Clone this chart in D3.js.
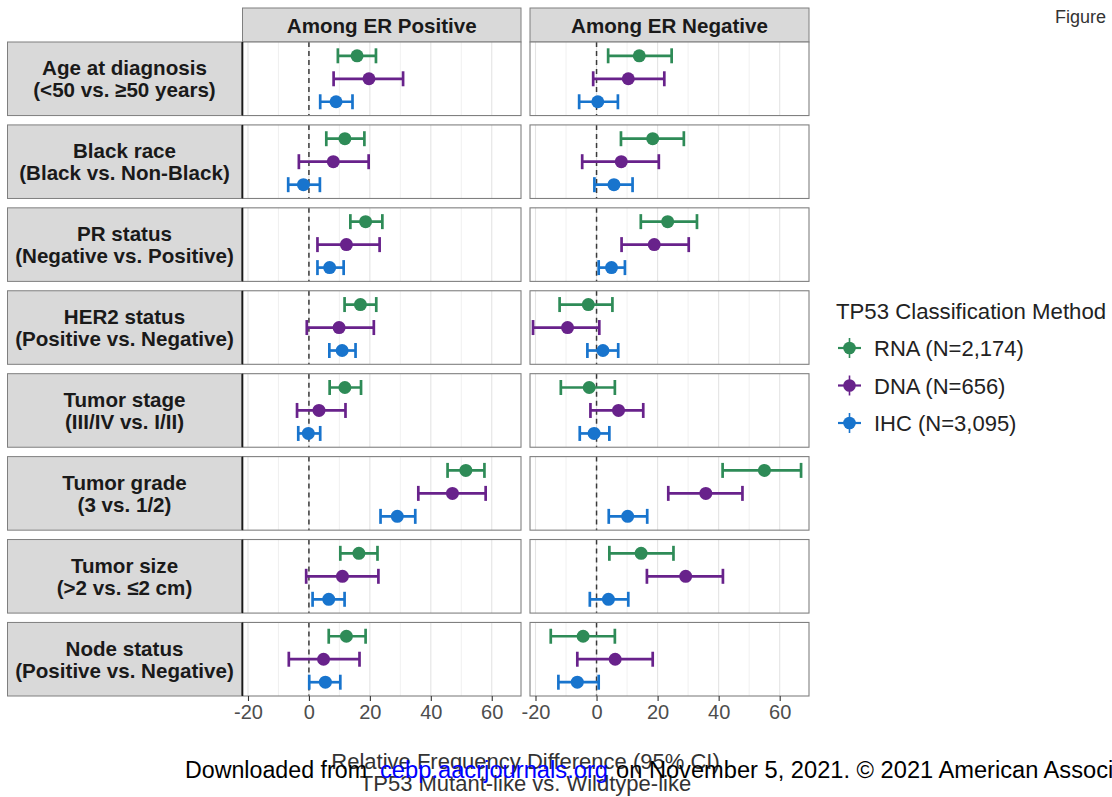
<!DOCTYPE html>
<html>
<head>
<meta charset="utf-8">
<script src="https://cdn.jsdelivr.net/npm/d3@7"></script>
<style>
  html, body { margin: 0; padding: 0; background: #ffffff; }
  svg { display: block; font-family: "Liberation Sans", Arial, Helvetica, sans-serif; }
</style>
</head>
<body>
<svg id="chart" width="1112" height="797"></svg>
<script>
// Row facets (two-line strip labels)
const categories = [
  ["Age at diagnosis", "(<50 vs. \u226550 years)"],
  ["Black race", "(Black vs. Non-Black)"],
  ["PR status", "(Negative vs. Positive)"],
  ["HER2 status", "(Positive vs. Negative)"],
  ["Tumor stage", "(III/IV vs. I/II)"],
  ["Tumor grade", "(3 vs. 1/2)"],
  ["Tumor size", "(>2 vs. \u22642 cm)"],
  ["Node status", "(Positive vs. Negative)"]
];
const columns = ["Among ER Positive", "Among ER Negative"];
const methods = ["RNA", "DNA", "IHC"];
const methodLabels = ["RNA (N=2,174)", "DNA (N=656)", "IHC (N=3,095)"];
const xTicks = [-20, 0, 20, 40, 60];

// [estimate, lower 95% CI, upper 95% CI] per row facet
const posRNA = [[15.8, 9.5, 22.0], [11.8, 5.7, 18.2], [18.6, 13.6, 24.1], [16.9, 11.7, 22.1],
                [11.8, 6.8, 17.1], [51.5, 45.5, 57.6], [16.4, 10.3, 22.5], [12.3, 6.5, 18.6]];
const posDNA = [[19.7, 8.1, 30.9], [8.0, -3.3, 19.6], [12.3, 2.8, 23.2], [9.9, -0.7, 21.3],
                [3.3, -3.9, 12.0], [47.1, 35.9, 58.0], [11.0, -0.9, 22.8], [4.8, -6.6, 16.6]];
const posIHC = [[8.9, 3.7, 14.3], [-1.8, -6.8, 3.6], [6.8, 2.8, 11.4], [10.9, 6.7, 15.3],
                [-0.2, -3.5, 3.7], [29.0, 23.5, 34.9], [6.5, 1.2, 11.7], [5.4, 0.1, 10.3]];
const negRNA = [[14.0, 3.8, 24.6], [18.4, 8.0, 28.6], [23.3, 14.5, 32.9], [-2.7, -12.1, 5.2],
                [-2.4, -11.7, 6.0], [55.0, 41.3, 67.0], [14.6, 4.2, 25.2], [-4.4, -15.0, 6.0]];
const negDNA = [[10.4, -1.1, 22.2], [8.1, -4.7, 20.4], [18.9, 8.2, 30.2], [-9.5, -20.8, 0.9],
                [7.2, -2.0, 15.3], [35.8, 23.5, 47.8], [29.2, 16.5, 41.4], [6.1, -6.3, 18.4]];
const negIHC = [[0.4, -5.7, 7.0], [5.7, -0.7, 11.8], [4.9, 0.7, 9.3], [2.1, -3.0, 7.1],
                [-0.8, -5.5, 4.2], [10.2, 4.0, 16.6], [3.9, -2.2, 10.4], [-6.3, -12.5, 0.7]];

const columnData = [
  { RNA: posRNA, DNA: posDNA, IHC: posIHC },
  { RNA: negRNA, DNA: negDNA, IHC: negIHC }
];

const colors = { RNA: "#2E8B57", DNA: "#68228B", IHC: "#1874CD" };

const svg = d3.select("#chart");

// Facet layout
const colRanges = [[242.5, 521], [530, 809]];
const rowBand = d3.scaleBand()
  .domain(d3.range(categories.length))
  .range([42, 696])
  .paddingInner(0.113)
  .paddingOuter(0);

const xDomain = [-21.8, 69.6];
const xScales = colRanges.map(r => d3.scaleLinear().domain(xDomain).range(r));
const minorTicks = [-10, 10, 30, 50];

// Column strips on top
columns.forEach((title, c) => {
  const [x0, x1] = colRanges[c];
  svg.append("rect")
    .attr("x", x0).attr("y", 8).attr("width", x1 - x0).attr("height", 34)
    .attr("fill", "#d9d9d9").attr("stroke", "#7f7f7f").attr("stroke-width", 1);
  svg.append("text")
    .attr("x", (x0 + x1) / 2).attr("y", 32.5)
    .attr("text-anchor", "middle")
    .attr("font-size", 20.6).attr("font-weight", "bold").attr("fill", "#1a1a1a")
    .text(title);
});

// Row strips on the left
categories.forEach((lab, r) => {
  const y0 = rowBand(r), h = rowBand.bandwidth();
  svg.append("rect")
    .attr("x", 7.5).attr("y", y0).attr("width", 234).attr("height", h)
    .attr("fill", "#d9d9d9").attr("stroke", "#7f7f7f").attr("stroke-width", 1);
  const cy = y0 + h / 2;
  const t = svg.append("text")
    .attr("text-anchor", "middle")
    .attr("font-size", 20.6).attr("font-weight", "bold").attr("fill", "#1a1a1a");
  t.append("tspan").attr("x", 124.5).attr("y", cy - 3.5).text(lab[0]);
  t.append("tspan").attr("x", 124.5).attr("y", cy + 18.5).text(lab[1]);
});

// Panels
columns.forEach((_, c) => {
  const x = xScales[c];
  const [x0, x1] = colRanges[c];
  categories.forEach((lab, r) => {
    const y0 = rowBand(r), h = rowBand.bandwidth();
    const g = svg.append("g");
    g.append("rect")
      .attr("x", x0).attr("y", y0).attr("width", x1 - x0).attr("height", h)
      .attr("fill", "#ffffff");
    // grid
    g.selectAll("line.minor").data(minorTicks).enter().append("line")
      .attr("x1", d => x(d)).attr("x2", d => x(d))
      .attr("y1", y0).attr("y2", y0 + h)
      .attr("stroke", "#ececec").attr("stroke-width", 0.8);
    g.selectAll("line.major").data(xTicks).enter().append("line")
      .attr("x1", d => x(d)).attr("x2", d => x(d))
      .attr("y1", y0).attr("y2", y0 + h)
      .attr("stroke", "#e4e4e4").attr("stroke-width", 1.1);
    // reference line at zero
    g.append("line")
      .attr("x1", x(0)).attr("x2", x(0))
      .attr("y1", y0).attr("y2", y0 + h)
      .attr("stroke", "#3a3a3a").attr("stroke-width", 1.5)
      .attr("stroke-dasharray", "5,4");

    const yPt = d3.scalePoint().domain(methods).range([y0, y0 + h]).padding(0.6);
    const rows = methods.map(m => ({ m, v: columnData[c][m][r] }));

    // error bars with end caps, then the point estimate
    rows.forEach(d => {
      const yy = yPt(d.m);
      const col = colors[d.m];
      g.append("line")
        .attr("x1", x(d.v[1])).attr("x2", x(d.v[2]))
        .attr("y1", yy).attr("y2", yy)
        .attr("stroke", col).attr("stroke-width", 2.7);
      [d.v[1], d.v[2]].forEach(e => {
        g.append("line")
          .attr("x1", x(e)).attr("x2", x(e))
          .attr("y1", yy - 7.5).attr("y2", yy + 7.5)
          .attr("stroke", col).attr("stroke-width", 2.7);
      });
      g.append("circle")
        .attr("cx", x(d.v[0])).attr("cy", yy).attr("r", 6.5)
        .attr("fill", col);
    });

    // panel border
    g.append("rect")
      .attr("x", x0).attr("y", y0).attr("width", x1 - x0).attr("height", h)
      .attr("fill", "none").attr("stroke", "#808080").attr("stroke-width", 1.1);
    if (c === 0) {
      g.append("line")
        .attr("x1", x0).attr("x2", x0).attr("y1", y0).attr("y2", y0 + h)
        .attr("stroke", "#1a1a1a").attr("stroke-width", 1.6);
    }
  });

  // bottom axis
  const bottom = rowBand(categories.length - 1) + rowBand.bandwidth();
  const ax = svg.append("g")
    .attr("transform", `translate(0,${bottom})`)
    .call(d3.axisBottom(x).tickValues(xTicks).tickSize(5).tickPadding(4).tickFormat(d => String(d)));
  ax.select(".domain").remove();
  ax.selectAll(".tick line").attr("stroke", "#333333").attr("stroke-width", 1.1);
  ax.selectAll(".tick text")
    .attr("font-size", 20).attr("fill", "#4d4d4d")
    .attr("font-family", "Liberation Sans, Arial, sans-serif");
});

// x axis title (two lines)
const xt = svg.append("text")
  .attr("text-anchor", "middle").attr("font-size", 22).attr("fill", "#333333");
xt.append("tspan").attr("x", 525.5).attr("y", 769).text("Relative Frequency Difference (95% CI)");
xt.append("tspan").attr("x", 525.5).attr("y", 791).text("TP53 Mutant-like vs. Wildtype-like");

// legend
const lg = svg.append("g");
lg.append("text")
  .attr("x", 836).attr("y", 319)
  .attr("font-size", 22.2).attr("fill", "#222222")
  .text("TP53 Classification Method");
methods.forEach((m, i) => {
  const cy = 348 + i * 37.5;
  const col = colors[m];
  lg.append("line").attr("x1", 838).attr("x2", 861).attr("y1", cy).attr("y2", cy)
    .attr("stroke", col).attr("stroke-width", 2.2);
  lg.append("line").attr("x1", 849.5).attr("x2", 849.5).attr("y1", cy - 10).attr("y2", cy + 10)
    .attr("stroke", col).attr("stroke-width", 1.6);
  lg.append("circle").attr("cx", 849.5).attr("cy", cy).attr("r", 6.3).attr("fill", col);
  lg.append("text")
    .attr("x", 874).attr("y", cy + 8)
    .attr("font-size", 22).attr("fill", "#222222")
    .text(methodLabels[i]);
});

// figure label, top right
svg.append("text")
  .attr("x", 1055).attr("y", 23)
  .attr("font-size", 18).attr("fill", "#333333")
  .text("Figure");

// download notice along the bottom; each run is fitted to its width with textLength
function noticeRun(x, str, color, width) {
  return svg.append("text")
    .attr("x", x).attr("y", 778).attr("font-size", 23).attr("fill", color)
    .attr("textLength", width).attr("lengthAdjust", "spacingAndGlyphs")
    .text(str);
}
noticeRun(185, "Downloaded from", "#000000", 182);
noticeRun(380, "cebp.aacrjournals.org", "#0000ff", 228);
const tail = "on November 5, 2021. \u00a9 2021 American Association for Cancer Research.";
const tailProbe = svg.append("text").attr("font-size", 23).attr("opacity", 0);
const fullLen = tailProbe.text(tail).node().getComputedTextLength();
const partLen = tailProbe.text("on November 5, 2021. \u00a9 2021 American Assoc").node().getComputedTextLength();
tailProbe.remove();
noticeRun(616, tail, "#000000", fullLen * 492 / partLen);
</script>
</body>
</html>
